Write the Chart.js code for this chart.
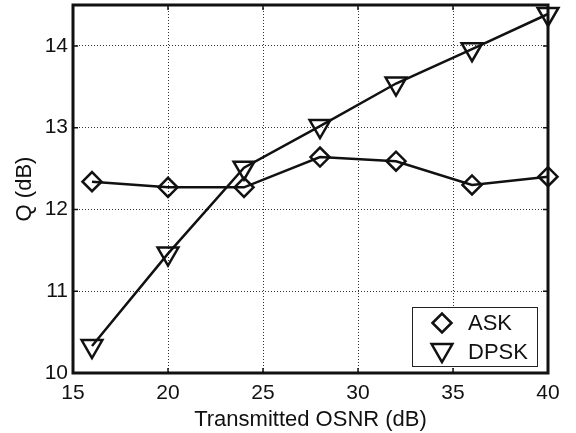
<!DOCTYPE html>
<html>
<head>
<meta charset="utf-8">
<script src="https://cdn.jsdelivr.net/npm/chart.js@4/dist/chart.umd.min.js"></script>
<style>
  html, body { margin: 0; padding: 0; background: #fff; }
  #wrap { width: 576px; height: 433px; }
</style>
</head>
<body>
<div id="wrap"><canvas id="qChart" width="576" height="433"></canvas></div>
<script>
// values
const osnr = [16, 20, 24, 28, 32, 36, 40];
const askQ = [12.34, 12.27, 12.27, 12.64, 12.59, 12.30, 12.40];
const dpskQ = [10.33, 11.46, 12.51, 13.02, 13.54, 13.96, 14.39];
const xTicks = [15, 20, 25, 30, 35, 40];
const yTicks = [10, 11, 12, 13, 14];

const FONT = 'Arial, "Liberation Sans", Helvetica, sans-serif';

// box around plot, inward tick marks and the boxed legend (MATLAB style)
const matlabAxes = {
    id: 'matlabAxes',
    afterDraw(chart) {
        const ctx = chart.ctx;
        const a = chart.chartArea;
        const xs = chart.scales.x, ys = chart.scales.y;
        ctx.save();
        ctx.strokeStyle = '#111';
        ctx.lineWidth = 1.5;
        ctx.beginPath();
        xTicks.forEach(v => {
            const px = xs.getPixelForValue(v);
            ctx.moveTo(px, a.bottom); ctx.lineTo(px, a.bottom - 5);
            ctx.moveTo(px, a.top); ctx.lineTo(px, a.top + 5);
        });
        yTicks.forEach(v => {
            const py = ys.getPixelForValue(v);
            ctx.moveTo(a.left, py); ctx.lineTo(a.left + 5, py);
            ctx.moveTo(a.right, py); ctx.lineTo(a.right - 5, py);
        });
        ctx.stroke();
        ctx.lineWidth = 3;
        ctx.strokeRect(a.left, a.top, a.right - a.left, a.bottom - a.top);

        // legend box, bottom right inside the axes
        const w = 125, h = 59;
        const lx = a.right - 11 - w, ly = a.bottom - 7 - h;
        ctx.fillStyle = '#fff';
        ctx.fillRect(lx, ly, w, h);
        ctx.lineWidth = 1;
        ctx.strokeStyle = '#222';
        ctx.strokeRect(lx + 0.5, ly + 0.5, w, h);
        ctx.font = '22px ' + FONT;
        ctx.textBaseline = 'middle';
        ctx.textAlign = 'left';
        chart.data.datasets.forEach((ds, i) => {
            const cy = ly + 16 + i * 29;
            ctx.lineWidth = 2.5;
            ctx.strokeStyle = '#111';
            ctx.fillStyle = 'rgba(0,0,0,0)';
            Chart.helpers.drawPoint(ctx, {
                pointStyle: ds.pointStyle,
                radius: ds.pointRadius,
                rotation: ds.pointRotation || 0,
                borderWidth: 2.5
            }, lx + 30, cy + (i === 1 ? -2 : 0));
            ctx.fillStyle = '#111';
            ctx.fillText(ds.label, lx + 56, cy + 1);
        });
        ctx.restore();
    }
};

new Chart(document.getElementById('qChart'), {
    type: 'line',
    data: {
        datasets: [
            {
                label: 'ASK',
                data: osnr.map((x, i) => ({ x: x, y: askQ[i] })),
                borderColor: '#111',
                borderWidth: 2.5,
                pointStyle: 'rectRot',
                pointRadius: 9.5,
                pointBorderWidth: 2.5,
                pointBorderColor: '#111',
                pointBackgroundColor: 'rgba(0,0,0,0)',
                tension: 0,
                clip: false
            },
            {
                label: 'DPSK',
                data: osnr.map((x, i) => ({ x: x, y: dpskQ[i] })),
                borderColor: '#111',
                borderWidth: 2.5,
                pointStyle: 'triangle',
                pointRotation: 180,
                pointRadius: 12,
                pointBorderWidth: 2.5,
                pointBorderColor: '#111',
                pointBackgroundColor: 'rgba(0,0,0,0)',
                tension: 0,
                clip: false
            }
        ]
    },
    options: {
        responsive: false,
        animation: false,
        layout: { autoPadding: false, padding: { top: 5, right: 28, left: 0, bottom: 0 } },
        plugins: {
            legend: { display: false },
            tooltip: { enabled: false }
        },
        scales: {
            x: {
                type: 'linear',
                min: 15,
                max: 40,
                afterBuildTicks: s => { s.ticks = xTicks.map(v => ({ value: v })); },
                afterFit: s => { s.height = 60; s.paddingLeft = 0; s.paddingRight = 0; },
                grid: {
                    color: '#333',
                    lineWidth: 1,
                    drawTicks: false
                },
                border: { display: false, dash: [1, 2] },
                ticks: {
                    color: '#111',
                    font: { family: FONT, size: 21 },
                    padding: 8,
                    maxRotation: 0
                },
                title: {
                    display: true,
                    text: 'Transmitted OSNR (dB)',
                    color: '#111',
                    font: { family: FONT, size: 22 },
                    padding: { top: 0, bottom: 0 }
                }
            },
            y: {
                type: 'linear',
                min: 10,
                max: 14.5,
                afterBuildTicks: s => { s.ticks = yTicks.map(v => ({ value: v })); },
                afterFit: s => { s.width = 73; s.paddingTop = 0; s.paddingBottom = 0; },
                grid: {
                    color: '#333',
                    lineWidth: 1,
                    drawTicks: false
                },
                border: { display: false, dash: [1, 2] },
                ticks: {
                    color: '#111',
                    font: { family: FONT, size: 21 },
                    padding: 5
                },
                title: {
                    display: true,
                    text: 'Q (dB)',
                    color: '#111',
                    font: { family: FONT, size: 22 },
                    padding: { top: 12, bottom: 4 }
                }
            }
        }
    },
    plugins: [matlabAxes]
});
</script>
</body>
</html>
